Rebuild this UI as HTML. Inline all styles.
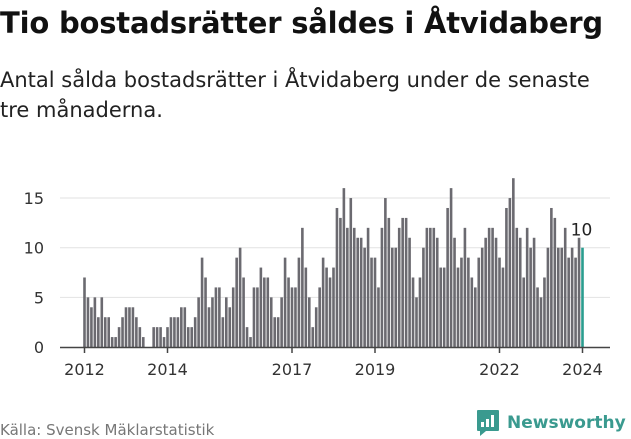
<!DOCTYPE html>
<html><head><meta charset="utf-8"><style>
body{margin:0;width:631px;height:439px;background:#fff;font-family:"DejaVu Sans","Liberation Sans",sans-serif;overflow:hidden;position:relative}
h1{position:absolute;left:0;top:6px;margin:0;font-size:29px;font-weight:bold;color:#111;letter-spacing:-0.2px;white-space:nowrap}
.sub{position:absolute;left:0;top:65px;font-size:21px;line-height:30px;color:#222;white-space:nowrap}
.src{position:absolute;left:0;top:421px;font-size:15px;color:#777}
.logo{position:absolute;left:476px;top:409px;display:flex;align-items:center}
.logo span{font-size:17px;font-weight:bold;color:#3a9a8f;margin-left:7px}
</style></head><body>
<h1>Tio bostadsrätter såldes i Åtvidaberg</h1>
<div class="sub">Antal sålda bostadsrätter i Åtvidaberg under de senaste<br>tre månaderna.</div>
<svg id="chart" width="631" height="439" style="position:absolute;left:0;top:0"></svg>
<div class="src">Källa: Svensk Mäklarstatistik</div>
<div class="logo">
<svg width="24" height="28" viewBox="0 0 24 28"><path d="M2 1h20a1 1 0 0 1 1 1v19a1 1 0 0 1-1 1H10l-6 5v-5H2a1 1 0 0 1-1-1V2a1 1 0 0 1 1-1z" fill="#3a9a8f"/><rect x="5" y="13" width="3" height="5" fill="#fff"/><rect x="10" y="10" width="3" height="8" fill="#fff"/><rect x="15" y="6" width="3" height="12" fill="#fff"/></svg>
<span>Newsworthy</span></div>
<script>
const values=[7,5,4,5,3,5,3,3,1,1,2,3,4,4,4,3,2,1,0,0,
2,2,2,1,2,3,3,3,4,4,2,2,3,5,9,7,4,5,6,6,3,5,4,6,9,10,7,
2,1,6,6,8,7,7,5,3,3,5,9,7,6,6,9,12,8,5,2,4,6,9,8,7,8,14,13,16,12,15,12,11,11,10,12,9,9,6,12,15,13,10,10,12,13,13,11,7,
5,7,10,12,12,12,11,8,8,14,16,11,8,9,12,9,7,6,9,10,11,12,12,11,9,8,14,15,17,12,11,7,12,10,11,6,5,7,10,14,13,10,10,12,9,10,9,11,10];
const yTicks=[0,5,10,15];
const xTickYears=[2012,2014,2017,2019,2022,2024];
const startYear=2012;
const svg=document.getElementById('chart');
const NS='http://www.w3.org/2000/svg';
const x0=84.5,x1=582.5,base=347,pxPerUnit=9.93;
const xm=i=>x0+i*(x1-x0)/(values.length-1);
const y=v=>base-v*pxPerUnit;
const F='DejaVu Sans, Liberation Sans, sans-serif';
function mk(t,a){const e=document.createElementNS(NS,t);for(const k in a)e.setAttribute(k,a[k]);svg.appendChild(e);return e;}
yTicks.forEach(t=>{
 if(t>0){const g=mk('line',{x1:60,x2:610,y1:y(t),y2:y(t),stroke:'#e2e2e2','stroke-width':1});
 
 }
 const l=mk('text',{x:44,y:y(t)+6,'text-anchor':'end','font-size':16,fill:'#333','font-family':F});
 l.textContent=t;
 
 
});
values.forEach((v,i)=>{
 if(v<=0)return;
 const last=i===values.length-1;
 const r=mk('rect',{x:xm(i)-1.3,y:y(v),width:2.6,height:v*pxPerUnit,fill:last?'#2a9d8f':'#6b6a70'});
 
 
});
const li=values.length-1;
const vl=mk('text',{x:xm(li)-1,y:y(values[li])-12,'text-anchor':'middle','font-size':17,fill:'#222','font-family':F});
vl.textContent=values[li];


const ax=mk('line',{x1:60,x2:610,y1:base+0.5,y2:base+0.5,stroke:'#444','stroke-width':1.5});


xTickYears.forEach(yr=>{
 const xx=xm((yr-startYear)*12);
 const tk=mk('line',{x1:xx,x2:xx,y1:base,y2:base+6,stroke:'#444','stroke-width':1.5});
 
 
 const t=mk('text',{x:xx,y:base+28,'text-anchor':'middle','font-size':16,fill:'#333','font-family':F});
 t.textContent=yr;
 
 
});
</script>
</body></html>
